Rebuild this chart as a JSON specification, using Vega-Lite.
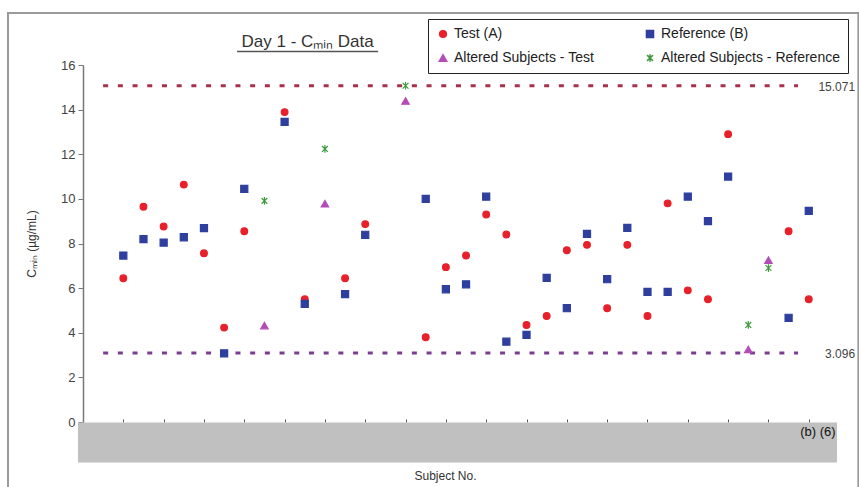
{
  "$schema": "https://vega.github.io/schema/vega-lite/v6.json",
  "width": 756,
  "height": 357,
  "autosize": {"type": "none"},
  "padding": {"left": 83, "top": 65, "right": 20, "bottom": 65},
  "background": "white",
  "config": {
    "view": {"stroke": null},
    "font": "Liberation Sans",
    "legend": {"labelFont": "Liberation Sans"}
  },
  "layer": [
    {
      "data": {"values": [{}]},
      "mark": {"type": "rect", "fill": null, "stroke": "#9a9a9a", "strokeWidth": 2},
      "encoding": {
        "x": {"datum": -4.72, "type": "quantitative", "scale": {"domain": [-1, 36.5], "nice": false, "zero": false}},
        "x2": {"datum": 37.46},
        "y": {"datum": 18.33, "type": "quantitative", "scale": {"domain": [0, 16], "nice": false}},
        "y2": {"datum": -4}
      }
    },
    {
      "data": {"values": [{"bound": "upper", "v": 15.071}]},
      "mark": {"type": "rule", "stroke": "#a8304a", "strokeWidth": 3, "strokeDash": [5, 9.7]},
      "encoding": {
        "x": {"datum": 0, "type": "quantitative"},
        "x2": {"datum": 34.47},
        "y": {"field": "v", "type": "quantitative"}
      }
    },
    {
      "data": {"values": [{"bound": "lower", "v": 3.096}]},
      "mark": {"type": "rule", "stroke": "#7b3d92", "strokeWidth": 3, "strokeDash": [5, 9.7]},
      "encoding": {
        "x": {"datum": 0, "type": "quantitative"},
        "x2": {"datum": 34.47},
        "y": {"field": "v", "type": "quantitative"}
      }
    },
    {
      "data": {"values": [{"label": "15.071", "v": 15.071}, {"label": "3.096", "v": 3.096}]},
      "mark": {"type": "text", "align": "right", "baseline": "middle", "fontSize": 12, "color": "#444", "dy": 1},
      "encoding": {
        "x": {"datum": 37.3, "type": "quantitative"},
        "y": {"field": "v", "type": "quantitative"},
        "text": {"field": "label"}
      }
    },
    {
      "data": {"values": [
        {"subject": 1, "series": "Test (A)", "cmin": 6.44},
        {"subject": 2, "series": "Test (A)", "cmin": 9.65},
        {"subject": 3, "series": "Test (A)", "cmin": 8.76},
        {"subject": 4, "series": "Test (A)", "cmin": 10.64},
        {"subject": 5, "series": "Test (A)", "cmin": 7.56},
        {"subject": 6, "series": "Test (A)", "cmin": 4.23},
        {"subject": 7, "series": "Test (A)", "cmin": 8.55},
        {"subject": 9, "series": "Test (A)", "cmin": 13.89},
        {"subject": 10, "series": "Test (A)", "cmin": 5.5},
        {"subject": 12, "series": "Test (A)", "cmin": 6.44},
        {"subject": 13, "series": "Test (A)", "cmin": 8.87},
        {"subject": 16, "series": "Test (A)", "cmin": 3.8},
        {"subject": 17, "series": "Test (A)", "cmin": 6.94},
        {"subject": 18, "series": "Test (A)", "cmin": 7.46},
        {"subject": 19, "series": "Test (A)", "cmin": 9.3},
        {"subject": 20, "series": "Test (A)", "cmin": 8.4},
        {"subject": 21, "series": "Test (A)", "cmin": 4.35},
        {"subject": 22, "series": "Test (A)", "cmin": 4.75},
        {"subject": 23, "series": "Test (A)", "cmin": 7.7},
        {"subject": 24, "series": "Test (A)", "cmin": 7.94},
        {"subject": 25, "series": "Test (A)", "cmin": 5.1},
        {"subject": 26, "series": "Test (A)", "cmin": 7.94},
        {"subject": 27, "series": "Test (A)", "cmin": 4.75},
        {"subject": 28, "series": "Test (A)", "cmin": 9.8},
        {"subject": 29, "series": "Test (A)", "cmin": 5.9},
        {"subject": 30, "series": "Test (A)", "cmin": 5.5},
        {"subject": 31, "series": "Test (A)", "cmin": 12.9},
        {"subject": 34, "series": "Test (A)", "cmin": 8.55},
        {"subject": 35, "series": "Test (A)", "cmin": 5.5},
        {"subject": 1, "series": "Reference (B)", "cmin": 7.46},
        {"subject": 2, "series": "Reference (B)", "cmin": 8.2},
        {"subject": 3, "series": "Reference (B)", "cmin": 8.04},
        {"subject": 4, "series": "Reference (B)", "cmin": 8.28},
        {"subject": 5, "series": "Reference (B)", "cmin": 8.69},
        {"subject": 6, "series": "Reference (B)", "cmin": 3.08},
        {"subject": 7, "series": "Reference (B)", "cmin": 10.45},
        {"subject": 9, "series": "Reference (B)", "cmin": 13.45},
        {"subject": 10, "series": "Reference (B)", "cmin": 5.29},
        {"subject": 12, "series": "Reference (B)", "cmin": 5.73},
        {"subject": 13, "series": "Reference (B)", "cmin": 8.39},
        {"subject": 16, "series": "Reference (B)", "cmin": 10.0},
        {"subject": 17, "series": "Reference (B)", "cmin": 5.95},
        {"subject": 18, "series": "Reference (B)", "cmin": 6.17},
        {"subject": 19, "series": "Reference (B)", "cmin": 10.1},
        {"subject": 20, "series": "Reference (B)", "cmin": 3.6},
        {"subject": 21, "series": "Reference (B)", "cmin": 3.9},
        {"subject": 22, "series": "Reference (B)", "cmin": 6.46},
        {"subject": 23, "series": "Reference (B)", "cmin": 5.1},
        {"subject": 24, "series": "Reference (B)", "cmin": 8.43},
        {"subject": 25, "series": "Reference (B)", "cmin": 6.4},
        {"subject": 26, "series": "Reference (B)", "cmin": 8.7},
        {"subject": 27, "series": "Reference (B)", "cmin": 5.83},
        {"subject": 28, "series": "Reference (B)", "cmin": 5.83},
        {"subject": 29, "series": "Reference (B)", "cmin": 10.1},
        {"subject": 30, "series": "Reference (B)", "cmin": 9.0},
        {"subject": 31, "series": "Reference (B)", "cmin": 11.0},
        {"subject": 34, "series": "Reference (B)", "cmin": 4.67},
        {"subject": 35, "series": "Reference (B)", "cmin": 9.46},
        {"subject": 8, "series": "Altered Subjects - Test", "cmin": 4.32},
        {"subject": 11, "series": "Altered Subjects - Test", "cmin": 9.78},
        {"subject": 15, "series": "Altered Subjects - Test", "cmin": 14.39},
        {"subject": 32, "series": "Altered Subjects - Test", "cmin": 3.25},
        {"subject": 33, "series": "Altered Subjects - Test", "cmin": 7.25},
        {"subject": 8, "series": "Altered Subjects - Reference", "cmin": 9.91},
        {"subject": 11, "series": "Altered Subjects - Reference", "cmin": 12.24},
        {"subject": 15, "series": "Altered Subjects - Reference", "cmin": 15.07},
        {"subject": 32, "series": "Altered Subjects - Reference", "cmin": 4.35},
        {"subject": 33, "series": "Altered Subjects - Reference", "cmin": 6.9}
      ]},
      "mark": {"type": "point", "filled": true, "opacity": 1, "strokeWidth": 1.2},
      "encoding": {
        "x": {
          "field": "subject", "type": "quantitative",
          "axis": {
            "values": [1, 3, 5, 7, 9, 11, 13, 15, 17, 19, 21, 23, 25, 27, 29, 31, 33, 35],
            "domain": false, "labels": false, "grid": false,
            "tickSize": 3, "tickColor": "#555", "offset": -3,
            "title": "Subject No.", "titleFont": "Liberation Sans", "titleFontSize": 12,
            "titleFontWeight": "normal", "titleColor": "#333", "titlePadding": 48, "titleX": 362
          }
        },
        "y": {
          "field": "cmin", "type": "quantitative",
          "axis": {
            "values": [0, 2, 4, 6, 8, 10, 12, 14, 16],
            "grid": false, "tickSize": 5, "tickColor": "#777", "domainColor": "#777", "domainWidth": 1.5,
            "labelFontSize": 13, "labelColor": "#444", "labelPadding": 3,
            "title": "Cₘᵢₙ (µg/mL)", "titleFont": "Liberation Sans", "titleFontSize": 12,
            "titleFontWeight": "normal", "titleColor": "#333", "titlePadding": 22
          }
        },
        "color": {
          "field": "series", "type": "nominal",
          "scale": {
            "domain": ["Test (A)", "Reference (B)", "Altered Subjects - Test", "Altered Subjects - Reference"],
            "range": ["#e8202a", "#2e3f9e", "#b44cb8", "#3c9a3c"]
          },
          "legend": {
            "title": null, "orient": "none", "legendX": 345, "legendY": -46,
            "direction": "horizontal",
            "columns": 2, "columnPadding": 48, "rowPadding": 10, "padding": 8,
            "strokeColor": "#222", "fillColor": "white",
            "labelFontSize": 14, "labelColor": "#222", "labelLimit": 300,
            "symbolSize": 50, "symbolOffset": 0, "labelOffset": 4
          }
        },
        "stroke": {
          "field": "series", "type": "nominal",
          "scale": {
            "domain": ["Test (A)", "Reference (B)", "Altered Subjects - Test", "Altered Subjects - Reference"],
            "range": ["#e8202a", "#2e3f9e", "#b44cb8", "#3c9a3c"]
          }
        },
        "shape": {
          "field": "series", "type": "nominal",
          "scale": {
            "domain": ["Test (A)", "Reference (B)", "Altered Subjects - Test", "Altered Subjects - Reference"],
            "range": ["circle", "square", "triangle-up", "M-0.75,-0.75L0.75,0.75M-0.75,0.75L0.75,-0.75M0,-1L0,1"]
          }
        },
        "size": {
          "field": "series", "type": "nominal",
          "scale": {
            "domain": ["Test (A)", "Reference (B)", "Altered Subjects - Test", "Altered Subjects - Reference"],
            "range": [45, 60, 60, 80]
          },
          "legend": null
        }
      }
    },
    {
      "data": {"values": [{}]},
      "mark": {"type": "rect", "fill": "#c0c0c0"},
      "encoding": {
        "x": {"datum": -1.25, "type": "quantitative"},
        "x2": {"datum": 36.4},
        "y": {"datum": -0.02, "type": "quantitative"},
        "y2": {"datum": -1.82}
      }
    },
    {
      "data": {"values": [{"note": "(b) (6)"}]},
      "mark": {"type": "text", "align": "right", "baseline": "middle", "fontSize": 13, "color": "#111"},
      "encoding": {
        "x": {"datum": 36.33, "type": "quantitative"},
        "y": {"datum": -0.45, "type": "quantitative"},
        "text": {"field": "note"}
      }
    },
    {
      "data": {"values": [{"title": "Day 1 - Cₘᵢₙ Data"}]},
      "mark": {"type": "text", "align": "center", "baseline": "middle", "fontSize": 17, "color": "#333"},
      "encoding": {
        "x": {"datum": 10.14, "type": "quantitative"},
        "y": {"datum": 17.05, "type": "quantitative"},
        "text": {"field": "title"}
      }
    },
    {
      "data": {"values": [{}]},
      "mark": {"type": "rule", "stroke": "#555", "strokeWidth": 1.5},
      "encoding": {
        "x": {"datum": 6.64, "type": "quantitative"},
        "x2": {"datum": 13.64},
        "y": {"datum": 16.6, "type": "quantitative"}
      }
    }
  ]
}
